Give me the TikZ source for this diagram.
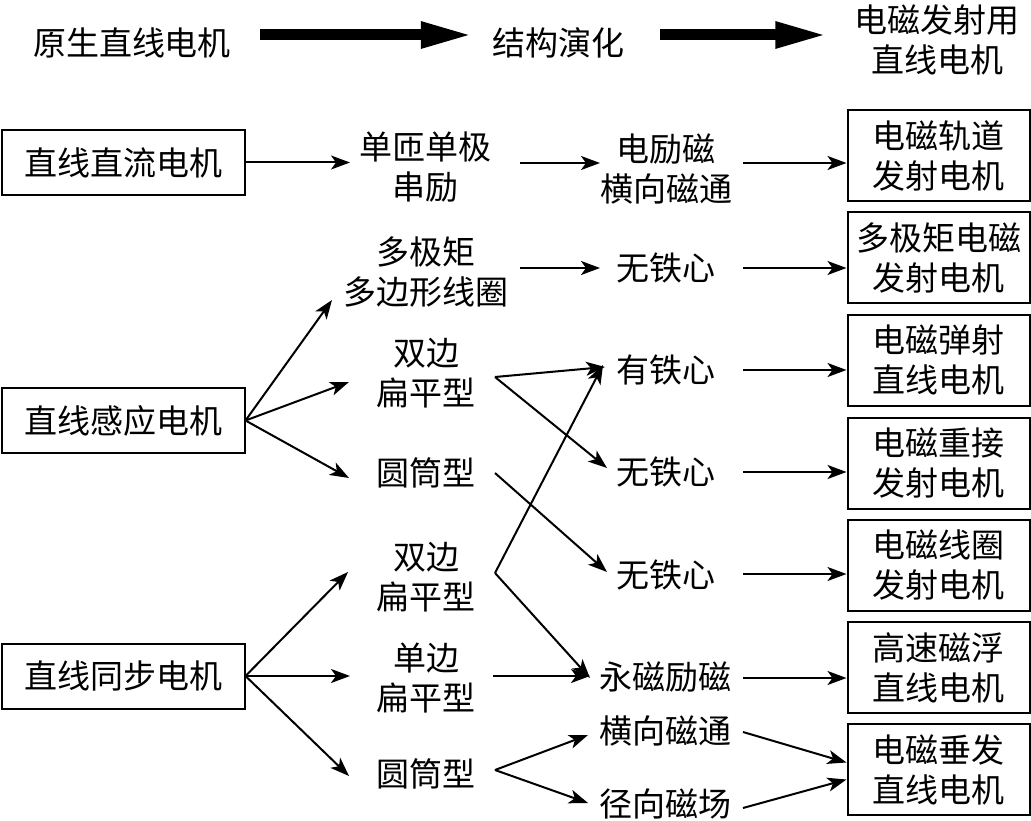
\documentclass[tikz,border=0pt]{standalone}
\usepackage{fontspec}
\newfontfamily\cjk{Noto Sans CJK SC}
\usetikzlibrary{arrows.meta,calc}
\begin{document}
\begin{tikzpicture}[x=1pt,y=-1pt,
  txt/.style={inner sep=0pt,align=center,font=\cjk\fontsize{33}{40}\selectfont},
  lbox/.style={txt,draw,line width=2pt,minimum width=243pt,minimum height=65pt},
  rbox/.style={txt,draw,line width=2pt,minimum width=182pt,minimum height=91pt},
  arr/.style={line width=2pt,-{Stealth[length=19pt,width=14pt,inset=5pt]}},
  big/.style={line width=11pt,-{Triangle[length=53pt,width=24pt]}}]
\useasboundingbox (0,0) rectangle (1031,821);

% title row
\node[txt] (t1) at (132,43) {原生直线电机};
\node[txt] (t2) at (558,43) {结构演化};
\node[txt] (t3) at (937,40) {电磁发射用\\直线电机};
\draw[big] ($(t1.east)+(29,-8)$) -- ($(t2.west)+(-18,-8)$);
\draw[big] ($(t2.east)+(36,-8)$) -- ($(t3.west)+(-26,-5)$);

% left boxes
\node[lbox] (b1) at (123,162.5) {直线直流电机};
\node[lbox] (b2) at (123,420.5) {直线感应电机};
\node[lbox] (b3) at (123,676) {直线同步电机};

% column 2
\node[txt] (m1) at (425,167) {单匝单极\\串励};
\node[txt] (m2) at (426,272) {多极矩\\多边形线圈};
\node[txt] (m3) at (426,373) {双边\\扁平型};
\node[txt] (m4) at (426,473) {圆筒型};
\node[txt] (m5) at (426,577) {双边\\扁平型};
\node[txt] (m6) at (426,678) {单边\\扁平型};
\node[txt] (m7) at (426,774) {圆筒型};

% column 3
\node[txt] (n1) at (666,169) {电励磁\\横向磁通};
\node[txt] (n2) at (666,268) {无铁心};
\node[txt] (n3) at (666,370) {有铁心};
\node[txt] (n4) at (666,472) {无铁心};
\node[txt] (n5) at (666,575) {无铁心};
\node[txt] (n6) at (665,677) {永磁励磁};
\node[txt] (n7) at (665,731) {横向磁通};
\node[txt] (n8) at (665,804) {径向磁场};

% right boxes
\node[rbox] (r1) at (938.5,155.5) {电磁轨道\\发射电机};
\node[rbox] (r2) at (938.5,257.5) {多极矩电磁\\发射电机};
\node[rbox] (r3) at (938.5,360) {电磁弹射\\直线电机};
\node[rbox] (r4) at (938.5,463) {电磁重接\\发射电机};
\node[rbox] (r5) at (938.5,565) {电磁线圈\\发射电机};
\node[rbox] (r6) at (938.5,667.5) {高速磁浮\\直线电机};
\node[rbox] (r7) at (938.5,769.5) {电磁垂发\\直线电机};

% row 1
\draw[arr] (b1.east) -- ($(m1)+(-75,-4.5)$);
\draw[arr] ($(m1)+(95,-4)$) -- ($(n1)+(-66,-6)$);
\draw[arr] ($(n1)+(77,-6)$) -- ($(r1.west)+(0,7.5)$);
% row 2
\draw[arr] ($(m2)+(94,-4)$) -- ($(n2)+(-66,0)$);
\draw[arr] ($(n2)+(77,0)$) -- ($(r2.west)+(0,10.5)$);
% induction motor
\draw[arr] (b2.east) -- ($(m2)+(-94,28)$);
\draw[arr] (b2.east) -- ($(m3)+(-77,9)$);
\draw[arr] (b2.east) -- ($(m4)+(-77,5)$);
\draw[arr] ($(m3)+(69,4)$) -- ($(n3)+(-61,-3)$);
\draw[arr] ($(m3)+(69,4)$) -- ($(n4)+(-59,-4)$);
\draw[arr] ($(m4)+(69,0)$) -- ($(n5)+(-59,-3)$);
% synchronous motor
\draw[arr] (b3.east) -- ($(m5)+(-78,-5)$);
\draw[arr] (b3.east) -- ($(m6)+(-76,-2)$);
\draw[arr] (b3.east) -- ($(m7)+(-77,2)$);
\draw[arr] ($(m5)+(69,-4)$) -- ($(n3)+(-63,-5)$);
\draw[arr] ($(m5)+(69,-4)$) -- ($(n6)+(-75,1)$);
\draw[arr] ($(m6)+(67,-2)$) -- ($(n6)+(-75,-1)$);
\draw[arr] ($(m7)+(69,-4)$) -- ($(n7)+(-77,4)$);
\draw[arr] ($(m7)+(69,-4)$) -- ($(n8)+(-77,-1)$);
% to right boxes
\draw[arr] ($(n3)+(77,0)$) -- ($(r3.west)+(0,10)$);
\draw[arr] ($(n4)+(77,0)$) -- ($(r4.west)+(0,9)$);
\draw[arr] ($(n5)+(77,-1)$) -- ($(r5.west)+(0,9)$);
\draw[arr] ($(n6)+(78,1)$) -- ($(r6.west)+(0,10.5)$);
\draw[arr] ($(n7)+(78,1)$) -- ($(r7.west)+(0,-7)$);
\draw[arr] ($(n8)+(78,4)$) -- ($(r7.west)+(0,10)$);
\end{tikzpicture}
\end{document}
